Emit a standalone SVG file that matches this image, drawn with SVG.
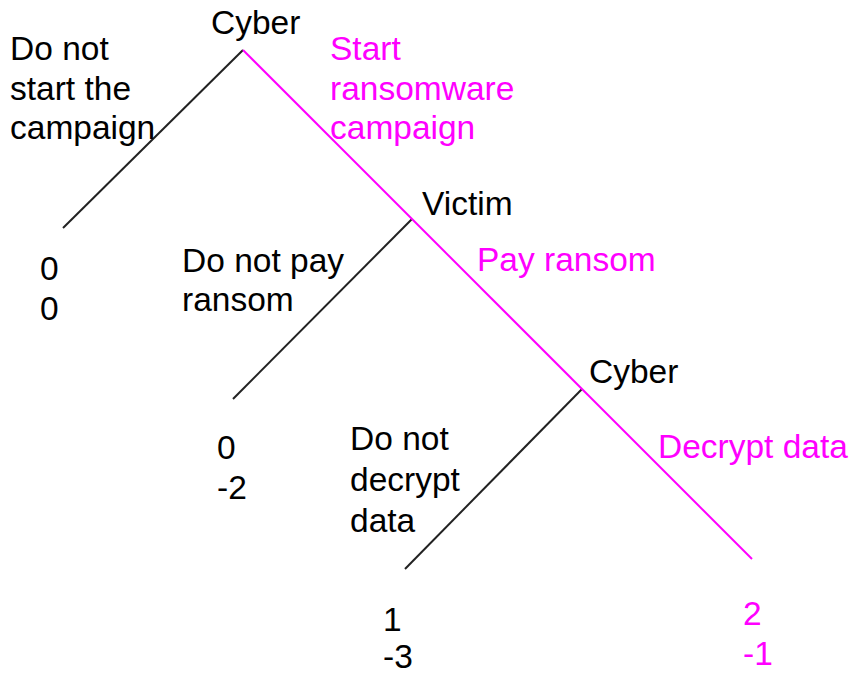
<svg xmlns="http://www.w3.org/2000/svg" width="856" height="674" viewBox="0 0 856 674">
  <style>
    text { font-family: "Liberation Sans", Arial, sans-serif; font-size: 33.5px; fill: #000; }
    text.pick { fill: #ff00ff; }
    line.move { stroke: #222; stroke-width: 2; }
    line.pick { stroke: #ff00ff; stroke-width: 2; }
  </style>
  <rect width="856" height="674" fill="#fff"/>

  <!-- branches of the game tree -->
  <g id="connectors">
    <line class="move" x1="243" y1="50" x2="63" y2="228"/>
    <line class="move" x1="412" y1="219" x2="233" y2="399"/>
    <line class="move" x1="582" y1="389" x2="405" y2="569"/>
    <line class="pick" x1="243" y1="50" x2="752" y2="559"/>
  </g>

  <!-- decision nodes -->
  <g id="node-cyber-1">
    <text x="211" y="34">Cyber</text>
  </g>
  <g id="node-victim">
    <text x="422" y="215">Victim</text>
  </g>
  <g id="node-cyber-2">
    <text x="589" y="383">Cyber</text>
  </g>

  <!-- action labels -->
  <g id="label-no-campaign">
    <text x="10" y="60">Do not</text>
    <text x="10" y="100">start the</text>
    <text x="10" y="139">campaign</text>
  </g>
  <g id="label-start-campaign">
    <text class="pick" x="330" y="60">Start</text>
    <text class="pick" x="330" y="100">ransomware</text>
    <text class="pick" x="330" y="139">campaign</text>
  </g>
  <g id="label-no-pay">
    <text x="182" y="272">Do not pay</text>
    <text x="182" y="311">ransom</text>
  </g>
  <g id="label-pay">
    <text class="pick" x="477" y="271">Pay ransom</text>
  </g>
  <g id="label-no-decrypt">
    <text x="350" y="450">Do not</text>
    <text x="350" y="491">decrypt</text>
    <text x="350" y="532">data</text>
  </g>
  <g id="label-decrypt">
    <text class="pick" x="658" y="458">Decrypt data</text>
  </g>

  <!-- payoffs -->
  <g id="payoff-1">
    <text x="40" y="280">0</text>
    <text x="40" y="320">0</text>
  </g>
  <g id="payoff-2">
    <text x="217" y="459">0</text>
    <text x="217" y="499">-2</text>
  </g>
  <g id="payoff-3">
    <text x="383" y="631">1</text>
    <text x="383" y="668">-3</text>
  </g>
  <g id="payoff-4">
    <text class="pick" x="743" y="625">2</text>
    <text class="pick" x="743" y="665">-1</text>
  </g>
</svg>
